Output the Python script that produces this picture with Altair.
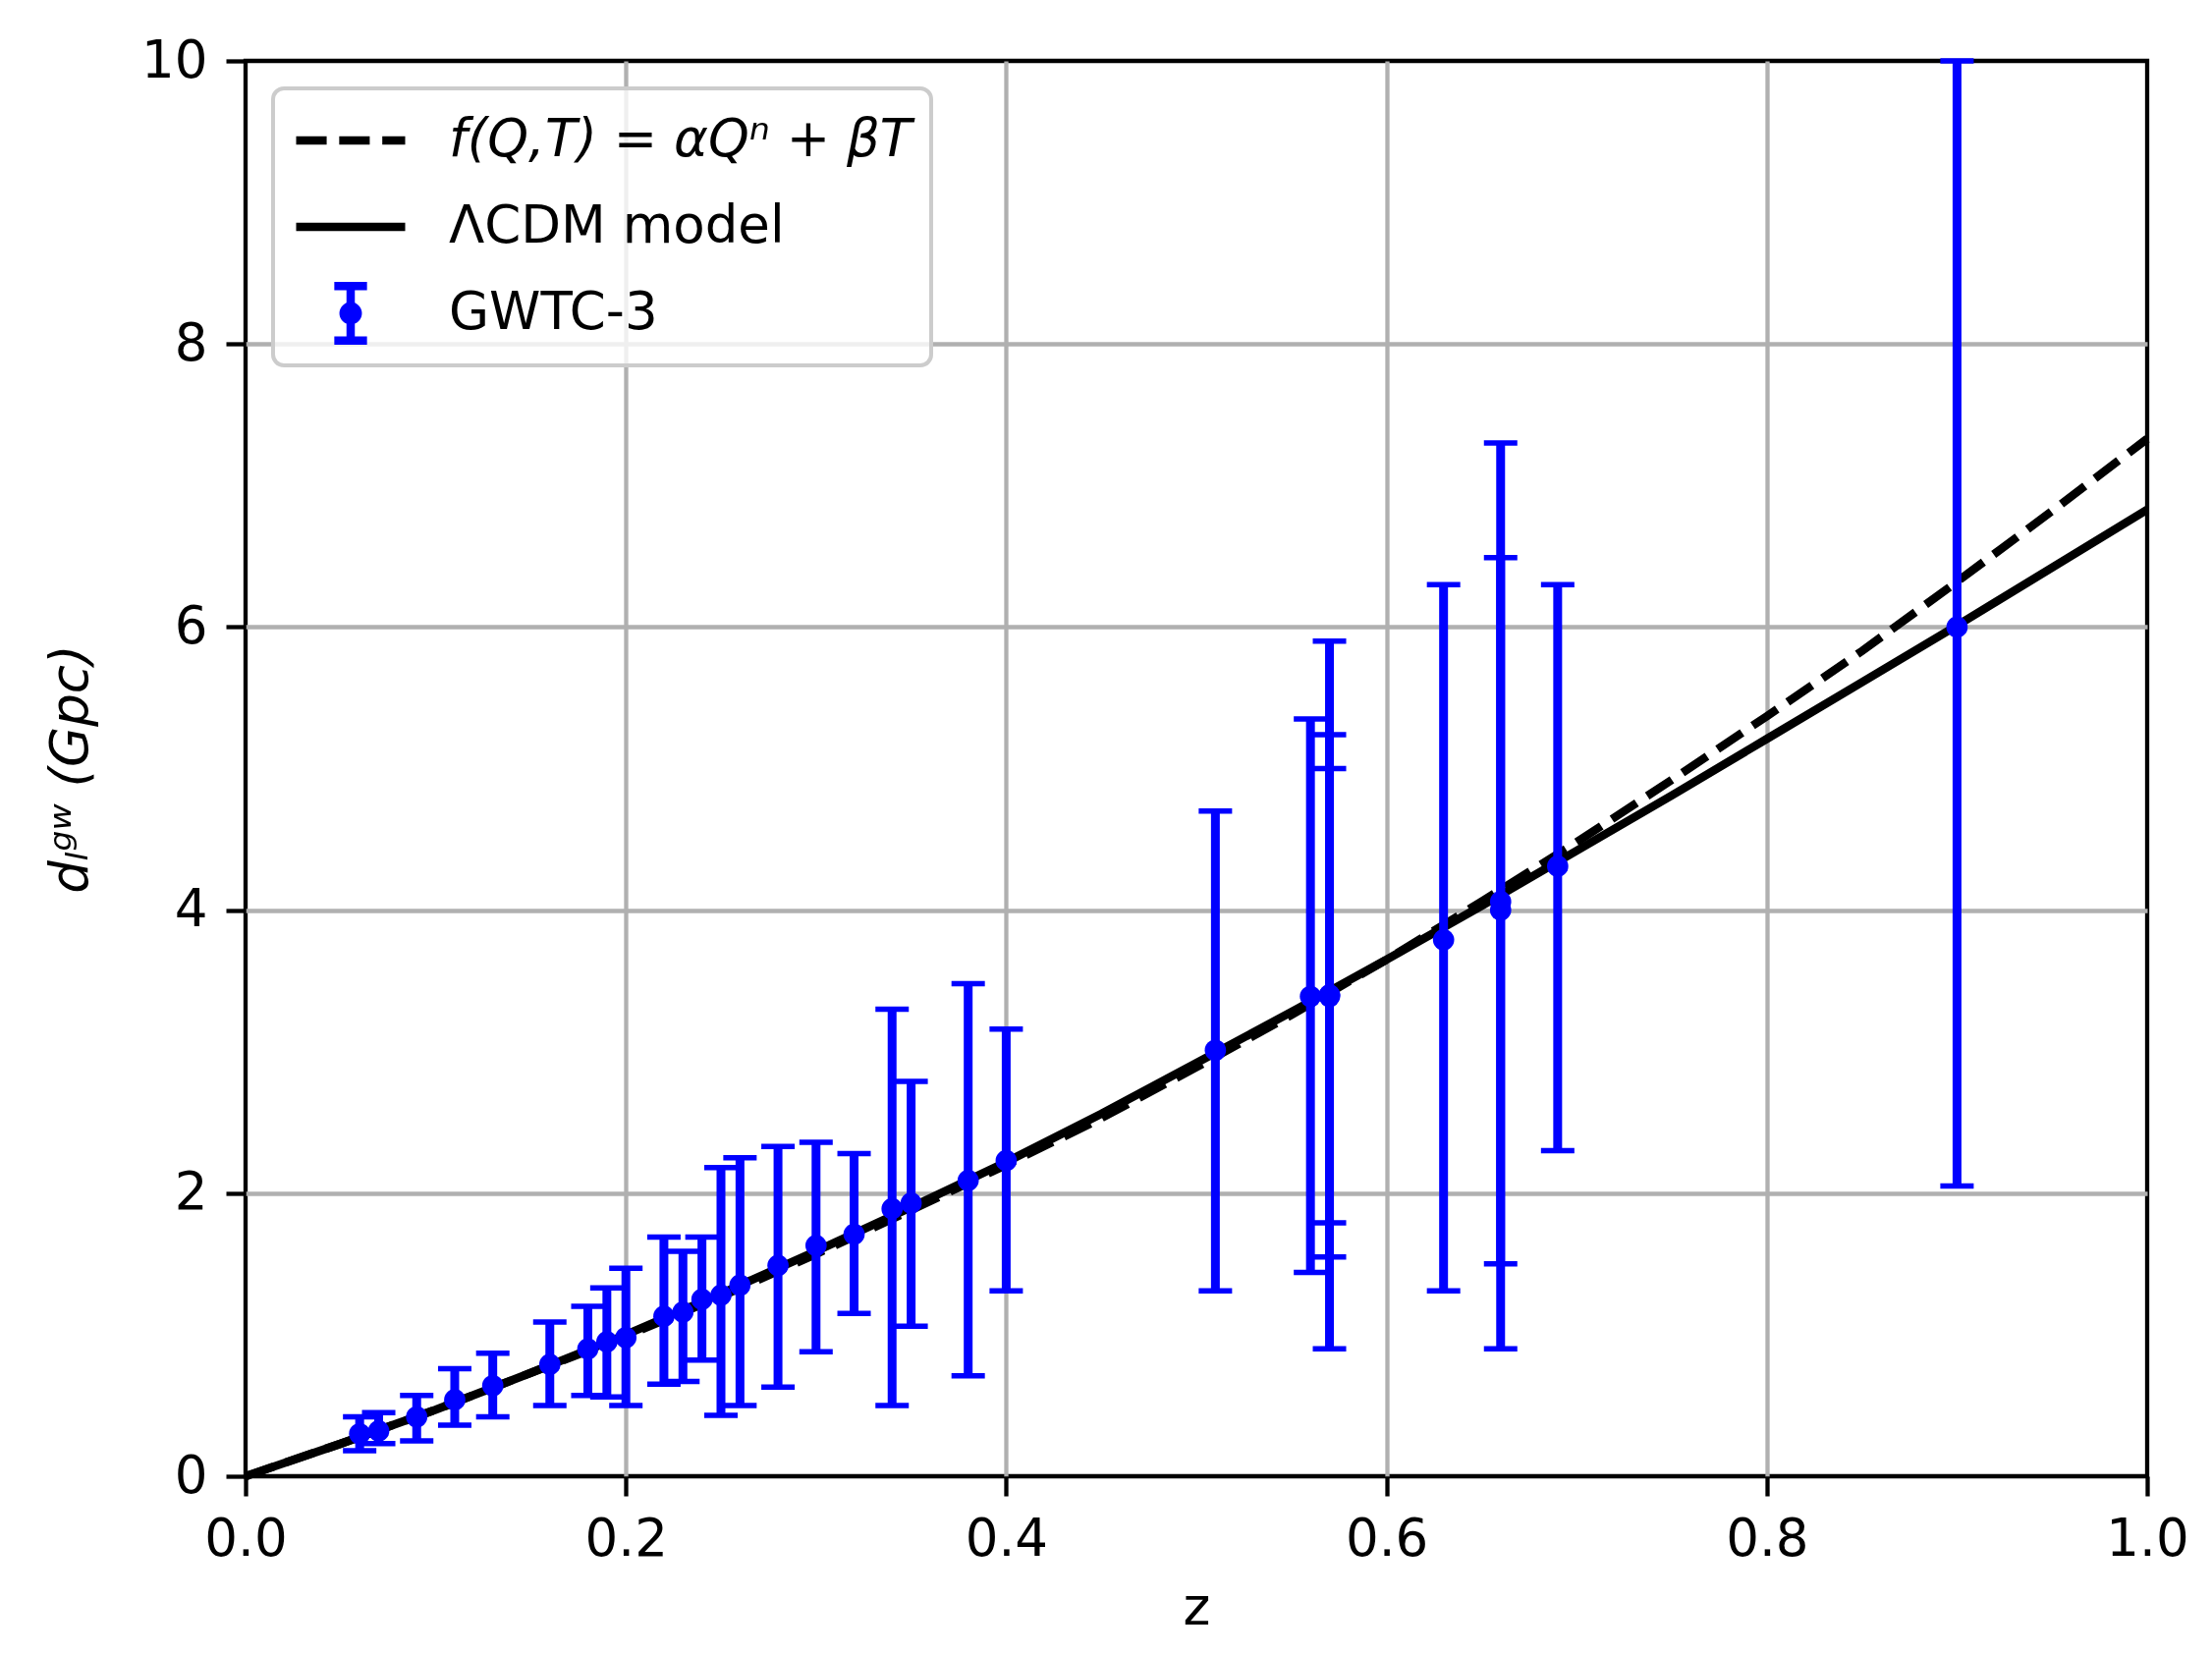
import altair as alt
import pandas as pd

# ---- GWTC-3 observed points (z, d_L, lower, upper) ----
z_obs = [0.06, 0.07, 0.09, 0.11, 0.13, 0.16, 0.18, 0.19, 0.20, 0.22, 0.23, 0.24, 0.25, 0.26, 0.28,
         0.30, 0.32, 0.34, 0.35, 0.38, 0.40, 0.51, 0.56, 0.57, 0.57, 0.57, 0.63, 0.66, 0.66, 0.69, 0.90]
d_obs = [0.30, 0.32, 0.42, 0.54, 0.64, 0.79, 0.90, 0.95, 0.98, 1.13, 1.16, 1.25, 1.28, 1.35, 1.49,
         1.63, 1.71, 1.89, 1.93, 2.09, 2.23, 3.01, 3.39, 3.39, 3.40, 3.40, 3.79, 4.06, 4.00, 4.31, 6.00]
d_lo = [0.18, 0.23, 0.25, 0.36, 0.42, 0.50, 0.57, 0.56, 0.50, 0.65, 0.67, 0.82, 0.43, 0.50, 0.63,
        0.88, 1.15, 0.50, 1.06, 0.71, 1.31, 1.31, 1.44, 0.90, 1.55, 1.79, 1.31, 0.90, 1.50, 2.30, 2.05]
d_hi = [0.42, 0.45, 0.57, 0.76, 0.87, 1.09, 1.20, 1.33, 1.47, 1.69, 1.59, 1.69, 2.18, 2.25, 2.33,
        2.36, 2.28, 3.30, 2.79, 3.48, 3.16, 4.70, 5.35, 5.90, 5.24, 5.00, 6.30, 7.30, 6.49, 6.30, 10.0]

# ---- model curves ----
z_curve = [0.0, 0.05, 0.10, 0.15, 0.20, 0.25, 0.30, 0.35, 0.40, 0.45, 0.50,
           0.55, 0.60, 0.65, 0.70, 0.75, 0.80, 0.85, 0.90, 0.95, 1.00]
d_lcdm = [0.0, 0.23, 0.47, 0.73, 1.00, 1.29, 1.59, 1.90, 2.22, 2.56, 2.92,
          3.28, 3.65, 4.03, 4.42, 4.81, 5.21, 5.61, 6.01, 6.42, 6.83]
d_fqt = [0.0, 0.23, 0.47, 0.73, 0.99, 1.27, 1.57, 1.88, 2.20, 2.53, 2.89,
         3.26, 3.65, 4.06, 4.48, 4.92, 5.37, 5.83, 6.32, 6.82, 7.33]

series_names = ["f(Q,T) = αQⁿ + βT", "ΛCDM model", "GWTC-3"]
x_ticks = [0.0, 0.2, 0.4, 0.6, 0.8, 1.0]
y_ticks = [0, 2, 4, 6, 8, 10]

obs = pd.DataFrame({"z": z_obs, "d": d_obs, "lo": d_lo, "hi": d_hi})
lcdm = pd.DataFrame({"z": z_curve, "d": d_lcdm})
fqt = pd.DataFrame({"z": z_curve, "d": d_fqt})
leg_df = pd.DataFrame({"series": series_names})

BLUE = "#0000ff"
LW = 8.5
EW = 9

xscale = alt.Scale(domain=[0, 1], nice=False, zero=False)
yscale = alt.Scale(domain=[0, 10], nice=False, zero=False)

xaxis = alt.Axis(values=x_ticks, format=".1f", title="z", labelPadding=18, titlePadding=17,
                 gridOpacity={"condition": {"test": "datum.value == 0 || datum.value == 1", "value": 0}, "value": 1})
yaxis = alt.Axis(values=y_ticks, format="d", title="dₗᵍʷ (Gpc)", titleFontStyle="italic",
                 labelPadding=19, titlePadding=44,
                 gridOpacity={"condition": {"test": "datum.value == 0 || datum.value == 10", "value": 0}, "value": 1})

X = alt.X("z:Q", scale=xscale, axis=xaxis)
Y = alt.Y("d:Q", scale=yscale, axis=yaxis)

line_fqt = alt.Chart(fqt).mark_line(color="black", strokeWidth=LW, strokeDash=[30, 13]).encode(x=X, y=Y)
line_lcdm = alt.Chart(lcdm).mark_line(color="black", strokeWidth=LW).encode(x=X, y=Y)

bars = alt.Chart(obs).mark_rule(color=BLUE, strokeWidth=EW).encode(
    x=X, y=alt.Y("lo:Q", scale=yscale, axis=yaxis), y2="hi:Q")
cap_lo = alt.Chart(obs).mark_point(shape="M-1,0H1", size=1156, strokeWidth=5.5, filled=False,
                                   opacity=1, color=BLUE).encode(x=X, y=alt.Y("lo:Q", scale=yscale, axis=yaxis))
cap_hi = alt.Chart(obs).mark_point(shape="M-1,0H1", size=1156, strokeWidth=5.5, filled=False,
                                   opacity=1, color=BLUE).encode(x=X, y=alt.Y("hi:Q", scale=yscale, axis=yaxis))
dots = alt.Chart(obs).mark_circle(size=470, color=BLUE, opacity=1).encode(x=X, y=Y)

# legend symbols (styles only)
dash_path = "M-1,0H-0.44M-0.21,0H0.35M0.58,0H1"
solid_path = "M-1,0H1"
err_path = ("M0,-0.5V0.5M-0.3,-0.5H0.3M-0.3,0.5H0.3"
            "M0.13,0A0.13,0.13 0 1,1 -0.13,0A0.13,0.13 0 1,1 0.13,0"
            "M0.05,0A0.05,0.05 0 1,1 -0.05,0A0.05,0.05 0 1,1 0.05,0")

italic_expr = "datum.value === '" + series_names[0] + "' ? 'italic' : 'normal'"
leg = alt.Legend(title=None, orient="none", legendX=28, legendY=28, padding=19,
                 symbolSize=12321, symbolStrokeWidth=LW, symbolOpacity=1, clipHeight=68,
                 rowPadding=20, labelOffset=40, labelFontSize=53, labelFont="DejaVu Sans",
                 labelColor="black", labelLimit=2000, fillColor="rgba(255,255,255,0.8)",
                 strokeColor="#cccccc", cornerRadius=11, symbolOffset=0,
                 labelFontStyle=alt.ExprRef(expr=italic_expr))

legend_layer = alt.Chart(leg_df).transform_filter("false").mark_point(
    filled=False, opacity=1, strokeWidth=LW).encode(
    color=alt.Color("series:N", scale=alt.Scale(domain=series_names, range=["black", "black", BLUE]), legend=leg),
    shape=alt.Shape("series:N", scale=alt.Scale(domain=series_names, range=[dash_path, solid_path, err_path]), legend=leg),
)

chart = alt.layer(line_fqt, line_lcdm, bars, cap_lo, cap_hi, dots, legend_layer).properties(
    width=1936, height=1441,
    padding={"left": 242, "top": 54, "right": 58, "bottom": 174},
    autosize=alt.AutoSizeParams(type="none"),
    background="white",
).configure_view(stroke="black", strokeWidth=4.3).configure_axis(
    labelFont="DejaVu Sans", titleFont="DejaVu Sans", labelFontSize=53, titleFontSize=53,
    labelColor="black", titleColor="black", titleFontWeight="normal",
    tickColor="black", tickWidth=4.3, tickSize=20, gridColor="#b0b0b0", gridWidth=4.3,
    domain=False, labelOverlap=False, labelFlush=False,
).configure_legend(strokeWidth=4)

chart.save("out.html", embed_options={"renderer": "svg", "actions": False})
